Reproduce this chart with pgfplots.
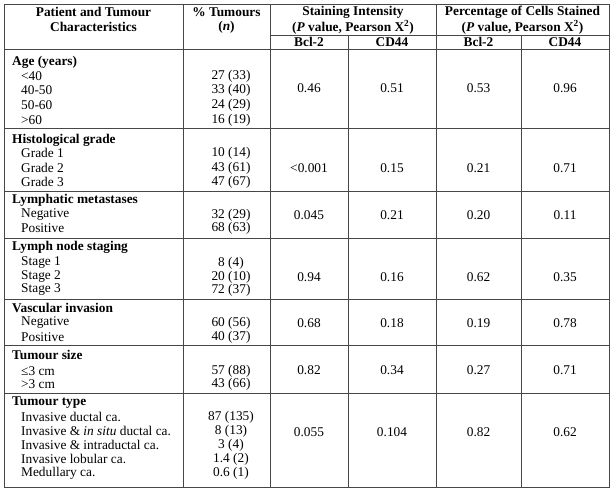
\documentclass[border=0pt]{standalone}
\usepackage{pgfplots}
\pgfplotsset{compat=1.18}
\usepackage{fontspec}
\setmainfont{Liberation Serif}
\newcommand\fs{\fontsize{13.4}{14}\selectfont}
\begin{document}
\begin{tikzpicture}
\tikzset{
  tl/.style={font=\fs, inner sep=0pt, anchor=west},
  tc/.style={font=\fs, inner sep=0pt, anchor=center},
  rule/.style={draw=black!72, line width=0.9pt},
}
\begin{axis}[
  width=613bp, height=491bp, scale only axis,
  xmin=0, xmax=613, ymin=0, ymax=491, y dir=reverse,
  hide axis, clip=false,
]
\path (0,0) rectangle (613,491);
% grid of the table
\draw[rule] (4,4) rectangle (609,487);
\draw[rule] (183,4) -- (183,487);
\draw[rule] (270,4) -- (270,487);
\draw[rule] (436,4) -- (436,487);
\draw[rule] (348,35) -- (348,487);
\draw[rule] (521,35) -- (521,487);
\draw[rule] (270,35) -- (609,35);
\draw[rule] (4,49) -- (609,49);
\draw[rule] (4,128) -- (609,128);
\draw[rule] (4,191) -- (609,191);
\draw[rule] (4,238) -- (609,238);
\draw[rule] (4,299) -- (609,299);
\draw[rule] (4,345) -- (609,345);
\draw[rule] (4,393) -- (609,393);
% headers
\node[tc] at (93.5,12) {\bfseries Patient and Tumour};
\node[tc] at (93.5,27) {\bfseries Characteristics};
\node[tc] at (226.5,12) {\bfseries \% Tumours};
\node[tc] at (226.5,27) {\bfseries (\textit{n})};
\node[tc] at (353,12) {\bfseries Staining Intensity};
\node[tc] at (353,27) {\bfseries (\textit{P} value, Pearson X\textsuperscript{2})};
\node[tc] at (522.5,12) {\bfseries Percentage of Cells Stained};
\node[tc] at (522.5,27) {\bfseries (\textit{P} value, Pearson X\textsuperscript{2})};
\node[tc] at (309,42) {\bfseries Bcl-2};
\node[tc] at (392,42) {\bfseries CD44};
\node[tc] at (478.5,42) {\bfseries Bcl-2};
\node[tc] at (565,42) {\bfseries CD44};
% row labels
\node[tl] at (12,62) {\bfseries Age (years)};
\node[tl] at (21,76) {<40};
\node[tl] at (21,90) {40-50};
\node[tl] at (21,105) {50-60};
\node[tl] at (21,120) {>60};
\node[tl] at (12,140) {\bfseries Histological grade};
\node[tl] at (21,153) {Grade 1};
\node[tl] at (21,168) {Grade 2};
\node[tl] at (21,182) {Grade 3};
\node[tl] at (12,200) {\bfseries Lymphatic metastases};
\node[tl] at (21,215) {Negative};
\node[tl] at (21,228) {Positive};
\node[tl] at (12,247) {\bfseries Lymph node staging};
\node[tl] at (21,263) {Stage 1};
\node[tl] at (21,277) {Stage 2};
\node[tl] at (21,290) {Stage 3};
\node[tl] at (12,308) {\bfseries Vascular invasion};
\node[tl] at (21,323) {Negative};
\node[tl] at (21,337) {Positive};
\node[tl] at (12,355) {\bfseries Tumour size};
\node[tl] at (21,371) {≤3 cm};
\node[tl] at (21,384) {>3 cm};
\node[tl] at (12,403) {\bfseries Tumour type};
\node[tl] at (21,417) {Invasive ductal ca.};
\node[tl] at (21,431) {Invasive \& \textit{in situ} ductal ca.};
\node[tl] at (21,445) {Invasive \& intraductal ca.};
\node[tl] at (21,459) {Invasive lobular ca.};
\node[tl] at (21,473) {Medullary ca.};
% % tumours (n)
\addplot[draw=none, mark=none, nodes near coords={\pgfplotspointmeta},
  point meta=explicit symbolic, nodes near coords align={center},
  every node near coord/.append style={font=\fs, inner sep=0pt, anchor=center}]
coordinates {
 (231,76) [27 (33)] (231,90) [33 (40)] (231,105) [24 (29)] (231,120) [16 (19)]
 (231,153) [10 (14)] (231,168) [43 (61)] (231,182) [47 (67)]
 (231,215) [32 (29)] (231,228) [68 (63)]
 (231,263) [8 (4)] (231,277) [20 (10)] (231,290) [72 (37)]
 (231,323) [60 (56)] (231,337) [40 (37)]
 (231,371) [57 (88)] (231,384) [43 (66)]
 (231,417) [87 (135)] (231,431) [8 (13)] (231,445) [3 (4)] (231,459) [1.4 (2)] (231,473) [0.6 (1)]
};
% P values
\addplot[draw=none, mark=none, nodes near coords={\pgfplotspointmeta},
  point meta=explicit symbolic, nodes near coords align={center},
  every node near coord/.append style={font=\fs, inner sep=0pt, anchor=center}]
coordinates {
 (309,88) [0.46] (392,88) [0.51] (478.5,88) [0.53] (565,88) [0.96]
 (309,168) [<0.001] (392,168) [0.15] (478.5,168) [0.21] (565,168) [0.71]
 (309,215) [0.045] (392,215) [0.21] (478.5,215) [0.20] (565,215) [0.11]
 (309,277) [0.94] (392,277) [0.16] (478.5,277) [0.62] (565,277) [0.35]
 (309,323) [0.68] (392,323) [0.18] (478.5,323) [0.19] (565,323) [0.78]
 (309,370) [0.82] (392,370) [0.34] (478.5,370) [0.27] (565,370) [0.71]
 (309,432) [0.055] (392,432) [0.104] (478.5,432) [0.82] (565,432) [0.62]
};
\end{axis}
\end{tikzpicture}
\end{document}
